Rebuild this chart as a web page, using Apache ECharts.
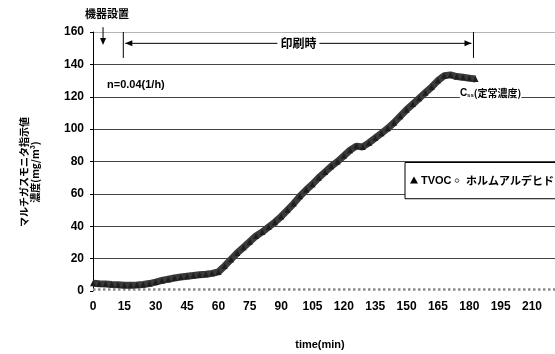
<!DOCTYPE html>
<html>
<head>
<meta charset="utf-8">
<script src="https://cdn.jsdelivr.net/npm/echarts@6/dist/echarts.min.js"></script>
<style>
  html, body { margin: 0; padding: 0; background: #fff; }
  #c { width: 555px; height: 354px; }
</style>
</head>
<body>
<div id="c"></div>
<script>
// Multi-gas monitor readings during printing (time in minutes)
const tvocTimes = [0, 3, 6, 9, 12, 15, 18, 21, 24, 27, 30, 33, 36, 39, 42, 45, 48, 51, 54, 57, 60,
  63, 66, 69, 72, 75, 78, 81, 84, 87, 90, 93, 96, 99, 102, 105, 108, 111, 114, 117, 120,
  123, 126, 129, 132, 135, 138, 141, 144, 147, 150, 153, 156, 159, 162, 165, 168, 171, 174, 177, 180, 183];
const tvocValues = [4.8, 4.5, 4.3, 4.0, 3.8, 3.6, 3.5, 3.7, 4.0, 4.6, 5.5, 6.5, 7.3, 8.0, 8.6, 9.1, 9.6, 10.0, 10.4, 10.9, 11.8,
  15.5, 19.5, 23.5, 27.0, 30.5, 34.0, 36.5, 39.5, 42.5, 46.0, 50.0, 54.0, 58.5, 62.5, 66.0, 70.0, 73.5, 77.0, 80.0, 83.5,
  87.0, 89.5, 89.0, 91.5, 94.5, 97.5, 100.5, 104.0, 108.0, 112.0, 115.5, 119.0, 122.5, 126.0, 130.0, 133.0, 133.5, 132.5, 132.0, 131.5, 131.0];

const hchoTimes = [0, 10, 20, 30, 40, 50, 60, 70, 80, 90, 100, 110, 120, 130, 140, 150, 160, 170, 180, 190, 200, 210, 221];
const hchoValues = [1.0, 0.9, 0.9, 1.0, 0.9, 1.0, 1.0, 0.9, 1.0, 1.0, 0.9, 1.0, 1.0, 0.9, 1.0, 1.0, 0.9, 1.0, 1.0, 0.9, 1.0, 1.0, 1.0];

const seriesNames = ['TVOC', 'ホルムアルデヒド'];
const xTicks = { min: 0, max: 221, interval: 15 };
const yTicks = { min: 0, max: 160, interval: 20 };

// Annotation positions, in data units (time, concentration)
const installTime = 4.8;
const printStart = 14.5;
const printEnd = 182;

const FONT = '"Noto Sans CJK JP", "Liberation Sans", sans-serif';
const NUMFONT = '"Liberation Sans", "Noto Sans", sans-serif';

const zip = (a, b) => a.map((t, i) => [t, b[i]]);

const chart = echarts.init(document.getElementById('c'), null, { renderer: 'canvas' });

const gridColors = ['rgba(0,0,0,0)', '#444', '#444', '#444', '#444', '#444', '#444', '#444', '#b5b5b5'];

chart.setOption({
  animation: false,
  backgroundColor: '#fff',
  grid: { left: 93, top: 32, right: 0, height: 259 },
  xAxis: {
    type: 'value',
    min: xTicks.min, max: xTicks.max, interval: xTicks.interval,
    axisLine: { show: false },
    axisTick: { show: false },
    splitLine: { show: false },
    axisLabel: {
      margin: 10, color: '#000', fontFamily: NUMFONT, fontWeight: 'bold', fontSize: 12,
      showMaxLabel: false
    }
  },
  yAxis: {
    type: 'value',
    min: yTicks.min, max: yTicks.max, interval: yTicks.interval,
    axisLine: { show: true, lineStyle: { color: '#000', width: 1 } },
    axisTick: { show: true, length: 3, lineStyle: { color: '#000' } },
    splitLine: { show: true, lineStyle: { color: gridColors, width: 1 } },
    axisLabel: { margin: 9, color: '#000', fontFamily: NUMFONT, fontWeight: 'bold', fontSize: 12 }
  },
  series: [
    {
      name: seriesNames[1],
      type: 'line',
      data: zip(hchoTimes, hchoValues),
      symbol: 'none',
      lineStyle: { color: '#8a8a8a', width: 2.5, type: 'dotted' },
      z: 2
    },
    {
      name: seriesNames[0],
      type: 'line',
      data: zip(tvocTimes, tvocValues),
      symbol: 'triangle',
      symbolSize: 6,
      itemStyle: { color: '#1e1e1e' },
      lineStyle: { color: '#3a3a3a', width: 7 },
      z: 3
    }
  ]
});

const px = (t, v) => chart.convertToPixel({ gridIndex: 0 }, [t, v]);

function arrowHead(tip, dir, len, half) {
  // dir: unit vector the arrow points along
  const [x, y] = tip, [dx, dy] = dir;
  const bx = x - dx * len, by = y - dy * len;
  return {
    type: 'polygon',
    shape: { points: [[x, y], [bx - dy * half, by + dx * half], [bx + dy * half, by - dx * half]] },
    style: { fill: '#000' }
  };
}

const g = [];

// "機器設置" marker with downward arrow
const instTop = px(installTime, 163), instBot = px(installTime, 152);
g.push({ type: 'text', x: px(6.7, 0)[0], y: 14,
  style: { text: '機器設置', font: 'bold 11px ' + FONT, fill: '#000', align: 'center', verticalAlign: 'middle' } });
g.push({ type: 'line', shape: { x1: instTop[0], y1: instTop[1], x2: instBot[0], y2: instBot[1] - 5 },
  style: { stroke: '#000', lineWidth: 1 } });
g.push(arrowHead(instBot, [0, 1], 7, 3));

// Printing period bracket
const sTop = px(printStart, 160), sBot = px(printStart, 144);
const eTop = px(printEnd, 160), eBot = px(printEnd, 144);
g.push({ type: 'line', shape: { x1: sTop[0], y1: sTop[1], x2: sBot[0], y2: sBot[1] }, style: { stroke: '#000', lineWidth: 1 } });
g.push({ type: 'line', shape: { x1: eTop[0], y1: eTop[1], x2: eBot[0], y2: eBot[1] }, style: { stroke: '#000', lineWidth: 1 } });
const aL = px(printStart, 153), aR = px(printEnd, 153);
g.push({ type: 'line', shape: { x1: aL[0] + 2, y1: aL[1], x2: aR[0] - 2, y2: aR[1] }, style: { stroke: '#000', lineWidth: 1 } });
g.push(arrowHead([aL[0] + 2, aL[1]], [-1, 0], 7, 3));
g.push(arrowHead([aR[0] - 2, aR[1]], [1, 0], 7, 3));
g.push({ type: 'text', x: (aL[0] + aR[0]) / 2, y: aL[1],
  style: { text: '印刷時', font: 'bold 12px ' + FONT, fill: '#000', align: 'center', verticalAlign: 'middle',
    backgroundColor: '#fff', padding: [0, 3] }, z: 10 });

// Ventilation rate note
const nPos = px(6.7, 127);
g.push({ type: 'text', x: nPos[0], y: nPos[1],
  style: { text: 'n=0.04(1/h)', font: 'bold 11px ' + NUMFONT, fill: '#000', align: 'left', verticalAlign: 'middle' } });

// Steady-state concentration label
const cPos = px(175.5, 122);
g.push({ type: 'text', x: cPos[0], y: cPos[1],
  style: {
    text: '{c|C}{s|ss}{t|(定常濃度)}', align: 'left', verticalAlign: 'middle',
    backgroundColor: '#fff',
    rich: {
      c: { font: 'bold 10px ' + NUMFONT, fill: '#000' },
      s: { font: 'bold 6px ' + NUMFONT, fill: '#000', verticalAlign: 'bottom', padding: [4, 0, 0, 0] },
      t: { font: 'bold 10px ' + FONT, fill: '#000' }
    }
  }, z: 10 });

// Legend box
const lbTop = px(0, 80)[1] + 1, lbBot = px(0, 57)[1];
const lbLeft = 405;
g.push({ type: 'rect', shape: { x: lbLeft, y: lbTop, width: 200, height: lbBot - lbTop },
  style: { fill: '#fff', stroke: '#000', lineWidth: 1 }, z: 20 });
const lMid = (lbTop + lbBot) / 2;
g.push({ type: 'polygon', shape: { points: [[414, lMid - 4], [410, lMid + 3], [418, lMid + 3]] },
  style: { fill: '#000' }, z: 21 });
g.push({ type: 'text', x: 421, y: lMid,
  style: { text: seriesNames[0], font: 'bold 11px ' + NUMFONT, fill: '#000', verticalAlign: 'middle' }, z: 21 });
g.push({ type: 'circle', shape: { cx: 457, cy: lMid, r: 1.8 },
  style: { fill: '#fff', stroke: '#555', lineWidth: 1 }, z: 21 });
g.push({ type: 'text', x: 466, y: lMid,
  style: { text: seriesNames[1], font: 'bold 11px ' + FONT, fill: '#000', verticalAlign: 'middle' }, z: 21 });

// Y axis title (two rotated lines)
g.push({ type: 'text', x: 30, y: 172, rotation: Math.PI / 2,
  style: { text: 'マルチガスモニタ指示値\n濃度(mg/m³)', font: 'bold 10px ' + FONT, fill: '#000',
    align: 'center', verticalAlign: 'middle', lineHeight: 11 } });

// X axis title
g.push({ type: 'text', x: 320, y: 345,
  style: { text: 'time(min)', font: 'bold 11px ' + NUMFONT, fill: '#000', align: 'center', verticalAlign: 'middle' } });

chart.setOption({ graphic: g });
</script>
</body>
</html>
